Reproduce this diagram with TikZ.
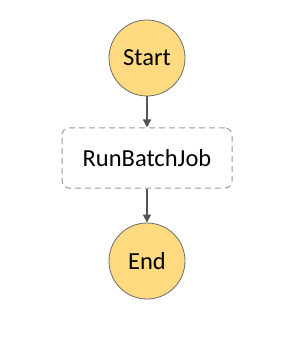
\documentclass[tikz,border=0pt]{standalone}
\usepackage{fontspec}
\setmainfont{Carlito}
\usetikzlibrary{arrows.meta}
\definecolor{stategold}{HTML}{FFDA80}
\definecolor{stateedge}{HTML}{6B6B6B}
\definecolor{taskedge}{HTML}{9A9A9A}
\definecolor{flowgray}{HTML}{555555}
\begin{document}
\begin{tikzpicture}[x=1pt,y=-1pt,line width=1.1pt,>={Triangle[length=8pt,width=8pt]},
		endpoint/.style={circle,draw=stateedge,line width=0.8pt,fill=stategold,minimum size=76pt,inner sep=0pt,font=\fontsize{24.5}{28}\selectfont},
		taskbox/.style={rectangle,rounded corners=7pt,draw=taskedge,dash pattern=on 6pt off 4pt,line width=1pt,minimum width=170pt,minimum height=60pt,font=\fontsize{24.5}{28}\selectfont},
		flow/.style={->,draw=flowgray,line width=1.2pt}]
			\useasboundingbox (0,0) rectangle (303,339);
			\node[endpoint] (start) at (147,58) {Start};
			\node[taskbox] (runbatchjob) at (147,158) {RunBatchJob};
			\node[endpoint] (end) at (147,261) {End};
			\draw[flow] (start)--(runbatchjob);
			\draw[flow] (runbatchjob)--(end);
		\end{tikzpicture}
\end{document}
